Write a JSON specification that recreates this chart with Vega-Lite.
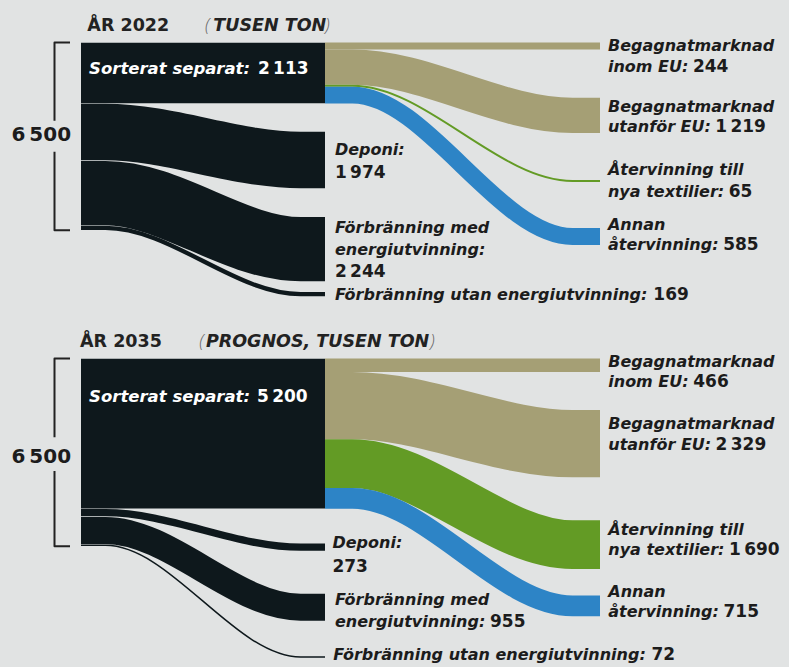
{
  "$schema": "https://vega.github.io/schema/vega-lite/v6.json",
  "background": "#e1e3e3",
  "padding": 0,
  "autosize": {"type": "none"},
  "width": 789,
  "height": 667,
  "config": {"view": {"stroke": null}},
  "datasets": {
    "flows": [
      {"year": 2022, "flow": "sorterat", "kind": "waste", "value": 2113, "x": 0, "y": 1056.5},
      {"year": 2022, "flow": "sorterat", "kind": "waste", "value": 2113, "x": 1, "y": 1056.5},
      {"year": 2022, "flow": "deponi", "kind": "waste", "value": 1974, "x": 0, "y": 3100},
      {"year": 2022, "flow": "deponi", "kind": "waste", "value": 1974, "x": 0.1, "y": 3100},
      {"year": 2022, "flow": "deponi", "kind": "waste", "value": 1974, "x": 0.9, "y": 4067},
      {"year": 2022, "flow": "deponi", "kind": "waste", "value": 1974, "x": 1, "y": 4067},
      {"year": 2022, "flow": "forbrMed", "kind": "waste", "value": 2244, "x": 0, "y": 5209},
      {"year": 2022, "flow": "forbrMed", "kind": "waste", "value": 2244, "x": 0.1, "y": 5209},
      {"year": 2022, "flow": "forbrMed", "kind": "waste", "value": 2244, "x": 0.9, "y": 7153},
      {"year": 2022, "flow": "forbrMed", "kind": "waste", "value": 2244, "x": 1, "y": 7153},
      {"year": 2022, "flow": "forbrUtan", "kind": "waste", "value": 169, "x": 0, "y": 6415.5},
      {"year": 2022, "flow": "forbrUtan", "kind": "waste", "value": 169, "x": 0.1, "y": 6415.5},
      {"year": 2022, "flow": "forbrUtan", "kind": "waste", "value": 169, "x": 0.9, "y": 8707.5},
      {"year": 2022, "flow": "forbrUtan", "kind": "waste", "value": 169, "x": 1, "y": 8707.5},
      {"year": 2022, "flow": "inom", "kind": "reuse", "value": 244, "x": 1, "y": 122},
      {"year": 2022, "flow": "inom", "kind": "reuse", "value": 244, "x": 2, "y": 122},
      {"year": 2022, "flow": "utanfor", "kind": "reuse", "value": 1219, "x": 1, "y": 853.5},
      {"year": 2022, "flow": "utanfor", "kind": "reuse", "value": 1219, "x": 1.1, "y": 853.5},
      {"year": 2022, "flow": "utanfor", "kind": "reuse", "value": 1219, "x": 1.9, "y": 2522.5},
      {"year": 2022, "flow": "utanfor", "kind": "reuse", "value": 1219, "x": 2, "y": 2522.5},
      {"year": 2022, "flow": "textil", "kind": "textile", "value": 65, "x": 1, "y": 1495.5},
      {"year": 2022, "flow": "textil", "kind": "textile", "value": 65, "x": 1.1, "y": 1495.5},
      {"year": 2022, "flow": "textil", "kind": "textile", "value": 65, "x": 1.9, "y": 4792},
      {"year": 2022, "flow": "textil", "kind": "textile", "value": 65, "x": 2, "y": 4792},
      {"year": 2022, "flow": "annan", "kind": "other", "value": 585, "x": 1, "y": 1820.5},
      {"year": 2022, "flow": "annan", "kind": "other", "value": 585, "x": 1.1, "y": 1820.5},
      {"year": 2022, "flow": "annan", "kind": "other", "value": 585, "x": 1.9, "y": 6713},
      {"year": 2022, "flow": "annan", "kind": "other", "value": 585, "x": 2, "y": 6713},
      {"year": 2035, "flow": "sorterat", "kind": "waste", "value": 5200, "x": 0, "y": 2600},
      {"year": 2035, "flow": "sorterat", "kind": "waste", "value": 5200, "x": 1, "y": 2600},
      {"year": 2035, "flow": "deponi", "kind": "waste", "value": 273, "x": 0, "y": 5336.5},
      {"year": 2035, "flow": "deponi", "kind": "waste", "value": 273, "x": 0.1, "y": 5336.5},
      {"year": 2035, "flow": "deponi", "kind": "waste", "value": 273, "x": 0.9, "y": 6529},
      {"year": 2035, "flow": "deponi", "kind": "waste", "value": 273, "x": 1, "y": 6529},
      {"year": 2035, "flow": "forbrMed", "kind": "waste", "value": 955, "x": 0, "y": 5950.5},
      {"year": 2035, "flow": "forbrMed", "kind": "waste", "value": 955, "x": 0.1, "y": 5950.5},
      {"year": 2035, "flow": "forbrMed", "kind": "waste", "value": 955, "x": 0.9, "y": 8606},
      {"year": 2035, "flow": "forbrMed", "kind": "waste", "value": 955, "x": 1, "y": 8606},
      {"year": 2035, "flow": "forbrUtan", "kind": "waste", "value": 72, "x": 0, "y": 6464},
      {"year": 2035, "flow": "forbrUtan", "kind": "waste", "value": 72, "x": 0.1, "y": 6464},
      {"year": 2035, "flow": "forbrUtan", "kind": "waste", "value": 72, "x": 0.9, "y": 10329},
      {"year": 2035, "flow": "forbrUtan", "kind": "waste", "value": 72, "x": 1, "y": 10329},
      {"year": 2035, "flow": "inom", "kind": "reuse", "value": 466, "x": 1, "y": 233},
      {"year": 2035, "flow": "inom", "kind": "reuse", "value": 466, "x": 2, "y": 233},
      {"year": 2035, "flow": "utanfor", "kind": "reuse", "value": 2329, "x": 1, "y": 1630.5},
      {"year": 2035, "flow": "utanfor", "kind": "reuse", "value": 2329, "x": 1.1, "y": 1630.5},
      {"year": 2035, "flow": "utanfor", "kind": "reuse", "value": 2329, "x": 1.9, "y": 2948},
      {"year": 2035, "flow": "utanfor", "kind": "reuse", "value": 2329, "x": 2, "y": 2948},
      {"year": 2035, "flow": "textil", "kind": "textile", "value": 1690, "x": 1, "y": 3640},
      {"year": 2035, "flow": "textil", "kind": "textile", "value": 1690, "x": 1.1, "y": 3640},
      {"year": 2035, "flow": "textil", "kind": "textile", "value": 1690, "x": 1.9, "y": 6443},
      {"year": 2035, "flow": "textil", "kind": "textile", "value": 1690, "x": 2, "y": 6443},
      {"year": 2035, "flow": "annan", "kind": "other", "value": 715, "x": 1, "y": 4842.5},
      {"year": 2035, "flow": "annan", "kind": "other", "value": 715, "x": 1.1, "y": 4842.5},
      {"year": 2035, "flow": "annan", "kind": "other", "value": 715, "x": 1.9, "y": 8561},
      {"year": 2035, "flow": "annan", "kind": "other", "value": 715, "x": 2, "y": 8561}
    ],
    "bracket": [
      {"year": 2022, "seg": "a", "i": 0, "x": -0.045, "y": 0},
      {"year": 2022, "seg": "a", "i": 1, "x": -0.1086, "y": 0},
      {"year": 2022, "seg": "a", "i": 2, "x": -0.1086, "y": 2706},
      {"year": 2022, "seg": "b", "i": 0, "x": -0.1086, "y": 3779},
      {"year": 2022, "seg": "b", "i": 1, "x": -0.1086, "y": 6500},
      {"year": 2022, "seg": "b", "i": 2, "x": -0.045, "y": 6500},
      {"year": 2035, "seg": "a", "i": 0, "x": -0.045, "y": 0},
      {"year": 2035, "seg": "a", "i": 1, "x": -0.1086, "y": 0},
      {"year": 2035, "seg": "a", "i": 2, "x": -0.1086, "y": 2727},
      {"year": 2035, "seg": "b", "i": 0, "x": -0.1086, "y": 3893},
      {"year": 2035, "seg": "b", "i": 1, "x": -0.1086, "y": 6500},
      {"year": 2035, "seg": "b", "i": 2, "x": -0.045, "y": 6500}
    ],
    "texts": [
      {"year": 2022, "role": "title", "x": 0.026, "y": -408, "text": "ÅR 2022"},
      {"year": 2022, "role": "paren", "x": 0.508, "y": -408, "text": "("},
      {"year": 2022, "role": "titleIt", "x": 0.542, "y": -408, "text": "TUSEN TON"},
      {"year": 2022, "role": "paren", "x": 1.0, "y": -408, "text": ")"},
      {"year": 2022, "role": "inLabel", "x": 0.033, "y": 1090, "text": "Sorterat separat:"},
      {"year": 2022, "role": "inNum", "x": 0.725, "y": 1090, "text": "2\u2009113"},
      {"year": 2022, "role": "total", "x": -0.163, "y": 3408, "text": "6\u2009500"},
      {"year": 2022, "role": "label", "x": 1.036, "y": 3893, "text": "Deponi:"},
      {"year": 2022, "role": "num", "x": 1.036, "y": 4699, "text": "1\u2009974"},
      {"year": 2022, "role": "label", "x": 1.036, "y": 6602, "text": "Förbränning med"},
      {"year": 2022, "role": "label", "x": 1.036, "y": 7336, "text": "energiutvinning:"},
      {"year": 2022, "role": "num", "x": 1.036, "y": 8104, "text": "2\u2009244"},
      {"year": 2022, "role": "label", "x": 1.036, "y": 8927, "text": "Förbränning utan energiutvinning:"},
      {"year": 2022, "role": "num", "x": 2.194, "y": 8927, "text": "169"},
      {"year": 2022, "role": "label", "x": 2.029, "y": 277, "text": "Begagnatmarknad"},
      {"year": 2022, "role": "label", "x": 2.029, "y": 1021, "text": "inom EU:"},
      {"year": 2022, "role": "num", "x": 2.338, "y": 1021, "text": "244"},
      {"year": 2022, "role": "label", "x": 2.029, "y": 2388, "text": "Begagnatmarknad"},
      {"year": 2022, "role": "label", "x": 2.029, "y": 3114, "text": "utanför EU:"},
      {"year": 2022, "role": "num", "x": 2.419, "y": 3114, "text": "1\u2009219"},
      {"year": 2022, "role": "label", "x": 2.029, "y": 4602, "text": "Återvinning till"},
      {"year": 2022, "role": "label", "x": 2.029, "y": 5329, "text": "nya textilier:"},
      {"year": 2022, "role": "num", "x": 2.468, "y": 5329, "text": "65"},
      {"year": 2022, "role": "label", "x": 2.029, "y": 6471, "text": "Annan"},
      {"year": 2022, "role": "label", "x": 2.029, "y": 7180, "text": "återvinning:"},
      {"year": 2022, "role": "num", "x": 2.448, "y": 7180, "text": "585"},
      {"year": 2035, "role": "title", "x": -0.004, "y": -408, "text": "ÅR 2035"},
      {"year": 2035, "role": "paren", "x": 0.485, "y": -408, "text": "("},
      {"year": 2035, "role": "titleIt", "x": 0.512, "y": -408, "text": "PROGNOS, TUSEN TON"},
      {"year": 2035, "role": "paren", "x": 1.382, "y": -408, "text": ")"},
      {"year": 2035, "role": "inLabel", "x": 0.033, "y": 1495, "text": "Sorterat separat:"},
      {"year": 2035, "role": "inNum", "x": 0.721, "y": 1495, "text": "5\u2009200"},
      {"year": 2035, "role": "total", "x": -0.163, "y": 3626, "text": "6\u2009500"},
      {"year": 2035, "role": "label", "x": 1.027, "y": 6567, "text": "Deponi:"},
      {"year": 2035, "role": "num", "x": 1.027, "y": 7377, "text": "273"},
      {"year": 2035, "role": "label", "x": 1.036, "y": 8529, "text": "Förbränning med"},
      {"year": 2035, "role": "label", "x": 1.036, "y": 9280, "text": "energiutvinning:"},
      {"year": 2035, "role": "num", "x": 1.6, "y": 9280, "text": "955"},
      {"year": 2035, "role": "label", "x": 1.03, "y": 10433, "text": "Förbränning utan energiutvinning:"},
      {"year": 2035, "role": "num", "x": 2.187, "y": 10433, "text": "72"},
      {"year": 2035, "role": "label", "x": 2.03, "y": 284, "text": "Begagnatmarknad"},
      {"year": 2035, "role": "label", "x": 2.03, "y": 976, "text": "inom EU:"},
      {"year": 2035, "role": "num", "x": 2.339, "y": 976, "text": "466"},
      {"year": 2035, "role": "label", "x": 2.03, "y": 2450, "text": "Begagnatmarknad"},
      {"year": 2035, "role": "label", "x": 2.03, "y": 3166, "text": "utanför EU:"},
      {"year": 2035, "role": "num", "x": 2.42, "y": 3166, "text": "2\u2009329"},
      {"year": 2035, "role": "label", "x": 2.03, "y": 6107, "text": "Återvinning till"},
      {"year": 2035, "role": "label", "x": 2.03, "y": 6799, "text": "nya textilier:"},
      {"year": 2035, "role": "num", "x": 2.469, "y": 6799, "text": "1\u2009690"},
      {"year": 2035, "role": "label", "x": 2.03, "y": 8242, "text": "Annan"},
      {"year": 2035, "role": "label", "x": 2.03, "y": 8934, "text": "återvinning:"},
      {"year": 2035, "role": "num", "x": 2.449, "y": 8934, "text": "715"}
    ]
  },
  "encoding": {
    "x": {"field": "x", "type": "quantitative", "axis": null, "scale": {"domain": [0, 1, 2], "range": [81, 325, 600], "zero": false, "nice": false}}
  },
  "resolve": {"scale": {"y": "independent", "size": "independent", "color": "independent"}},
  "layer": [
    {
      "encoding": {
        "y": {"field": "y", "type": "quantitative", "axis": null, "scale": {"domain": [-1470.6, 21609], "reverse": true, "zero": false, "nice": false}}
      },
      "resolve": {"scale": {"size": "independent", "color": "independent"}},
      "layer": [
        {"data": {"values": [{}]}, "mark": {"type": "rect", "color": "#b8c5ce"}, "encoding": {"x": {"datum": -0.332}, "x2": {"datum": -0.318}, "y": {"datum": -1470.6}, "y2": {"datum": 21609}}},
        {"data": {"name": "bracket"}, "transform": [{"filter": "datum.year == 2022"}], "mark": {"type": "line", "color": "#222222", "strokeWidth": 2, "strokeJoin": "round"}, "encoding": {"detail": {"field": "seg"}, "order": {"field": "i", "type": "quantitative"}}},
        {"data": {"name": "flows"}, "transform": [{"filter": "datum.year == 2022 && datum.kind == 'waste'"}], "mark": {"type": "line", "interpolate": "monotone", "color": "#0e181c", "strokeCap": "butt", "strokeJoin": "round"}, "encoding": {"detail": {"field": "flow"}, "size": {"field": "value", "type": "quantitative", "legend": null, "scale": {"domain": [20.8, 10020.8], "range": [0, 289], "zero": false}}}},
        {"data": {"name": "flows"}, "transform": [{"filter": "datum.year == 2022 && datum.kind != 'waste'"}], "mark": {"type": "line", "interpolate": "monotone", "strokeCap": "butt", "strokeJoin": "round"}, "encoding": {"detail": {"field": "flow"}, "color": {"field": "kind", "type": "nominal", "legend": null, "scale": {"domain": ["reuse", "textile", "other"], "range": ["#a59f75", "#639b25", "#2d84c6"]}}, "size": {"field": "value", "type": "quantitative", "legend": null, "scale": {"domain": [0, 10000], "range": [0, 289]}}}},
        {"data": {"name": "texts"}, "transform": [{"filter": "datum.year == 2022 && datum.role == 'title'"}], "mark": {"type": "text", "align": "left", "baseline": "alphabetic", "font": "DejaVu Sans", "fontWeight": "bold", "fontSize": 17.5, "color": "#222222"}, "encoding": {"text": {"field": "text"}}},
        {"data": {"name": "texts"}, "transform": [{"filter": "datum.year == 2022 && datum.role == 'titleIt'"}], "mark": {"type": "text", "align": "left", "baseline": "alphabetic", "font": "DejaVu Sans", "fontWeight": "bold", "fontStyle": "italic", "fontSize": 17.5, "color": "#222222"}, "encoding": {"text": {"field": "text"}}},
        {"data": {"name": "texts"}, "transform": [{"filter": "datum.year == 2022 && datum.role == 'paren'"}], "mark": {"type": "text", "align": "left", "baseline": "alphabetic", "font": "Open Sans", "fontWeight": 300, "fontStyle": "italic", "fontSize": 18, "color": "#666666"}, "encoding": {"text": {"field": "text"}}},
        {"data": {"name": "texts"}, "transform": [{"filter": "datum.year == 2022 && datum.role == 'inLabel'"}], "mark": {"type": "text", "align": "left", "baseline": "alphabetic", "font": "DejaVu Sans", "fontWeight": "bold", "fontStyle": "italic", "fontSize": 16.5, "color": "#ffffff"}, "encoding": {"text": {"field": "text"}}},
        {"data": {"name": "texts"}, "transform": [{"filter": "datum.year == 2022 && datum.role == 'inNum'"}], "mark": {"type": "text", "align": "left", "baseline": "alphabetic", "font": "DejaVu Sans", "fontWeight": "bold", "fontSize": 17, "color": "#ffffff"}, "encoding": {"text": {"field": "text"}}},
        {"data": {"name": "texts"}, "transform": [{"filter": "datum.year == 2022 && datum.role == 'total'"}], "mark": {"type": "text", "align": "center", "baseline": "alphabetic", "font": "DejaVu Sans", "fontWeight": "bold", "fontSize": 20, "color": "#1c1c1c"}, "encoding": {"text": {"field": "text"}}},
        {"data": {"name": "texts"}, "transform": [{"filter": "datum.year == 2022 && datum.role == 'label'"}], "mark": {"type": "text", "align": "left", "baseline": "alphabetic", "font": "DejaVu Sans", "fontWeight": "bold", "fontStyle": "italic", "fontSize": 16, "color": "#1c1c1c"}, "encoding": {"text": {"field": "text"}}},
        {"data": {"name": "texts"}, "transform": [{"filter": "datum.year == 2022 && datum.role == 'num'"}], "mark": {"type": "text", "align": "left", "baseline": "alphabetic", "font": "DejaVu Sans", "fontWeight": "bold", "fontSize": 17, "color": "#1c1c1c"}, "encoding": {"text": {"field": "text"}}}
      ]
    },
    {
      "encoding": {
        "y": {"field": "y", "type": "quantitative", "axis": null, "scale": {"domain": [-12404.8, 10674.7], "reverse": true, "zero": false, "nice": false}}
      },
      "resolve": {"scale": {"size": "independent", "color": "independent"}},
      "layer": [
        {"data": {"name": "bracket"}, "transform": [{"filter": "datum.year == 2035"}], "mark": {"type": "line", "color": "#222222", "strokeWidth": 2, "strokeJoin": "round"}, "encoding": {"detail": {"field": "seg"}, "order": {"field": "i", "type": "quantitative"}}},
        {"data": {"name": "flows"}, "transform": [{"filter": "datum.year == 2035 && datum.kind == 'waste'"}], "mark": {"type": "line", "interpolate": "monotone", "color": "#0e181c", "strokeCap": "butt", "strokeJoin": "round"}, "encoding": {"detail": {"field": "flow"}, "size": {"field": "value", "type": "quantitative", "legend": null, "scale": {"domain": [20.8, 10020.8], "range": [0, 289], "zero": false}}}},
        {"data": {"name": "flows"}, "transform": [{"filter": "datum.year == 2035 && datum.kind != 'waste'"}], "mark": {"type": "line", "interpolate": "monotone", "strokeCap": "butt", "strokeJoin": "round"}, "encoding": {"detail": {"field": "flow"}, "color": {"field": "kind", "type": "nominal", "legend": null, "scale": {"domain": ["reuse", "textile", "other"], "range": ["#a59f75", "#639b25", "#2d84c6"]}}, "size": {"field": "value", "type": "quantitative", "legend": null, "scale": {"domain": [0, 10000], "range": [0, 289]}}}},
        {"data": {"name": "texts"}, "transform": [{"filter": "datum.year == 2035 && datum.role == 'title'"}], "mark": {"type": "text", "align": "left", "baseline": "alphabetic", "font": "DejaVu Sans", "fontWeight": "bold", "fontSize": 17.5, "color": "#222222"}, "encoding": {"text": {"field": "text"}}},
        {"data": {"name": "texts"}, "transform": [{"filter": "datum.year == 2035 && datum.role == 'titleIt'"}], "mark": {"type": "text", "align": "left", "baseline": "alphabetic", "font": "DejaVu Sans", "fontWeight": "bold", "fontStyle": "italic", "fontSize": 17.5, "color": "#222222"}, "encoding": {"text": {"field": "text"}}},
        {"data": {"name": "texts"}, "transform": [{"filter": "datum.year == 2035 && datum.role == 'paren'"}], "mark": {"type": "text", "align": "left", "baseline": "alphabetic", "font": "Open Sans", "fontWeight": 300, "fontStyle": "italic", "fontSize": 18, "color": "#666666"}, "encoding": {"text": {"field": "text"}}},
        {"data": {"name": "texts"}, "transform": [{"filter": "datum.year == 2035 && datum.role == 'inLabel'"}], "mark": {"type": "text", "align": "left", "baseline": "alphabetic", "font": "DejaVu Sans", "fontWeight": "bold", "fontStyle": "italic", "fontSize": 16.5, "color": "#ffffff"}, "encoding": {"text": {"field": "text"}}},
        {"data": {"name": "texts"}, "transform": [{"filter": "datum.year == 2035 && datum.role == 'inNum'"}], "mark": {"type": "text", "align": "left", "baseline": "alphabetic", "font": "DejaVu Sans", "fontWeight": "bold", "fontSize": 17, "color": "#ffffff"}, "encoding": {"text": {"field": "text"}}},
        {"data": {"name": "texts"}, "transform": [{"filter": "datum.year == 2035 && datum.role == 'total'"}], "mark": {"type": "text", "align": "center", "baseline": "alphabetic", "font": "DejaVu Sans", "fontWeight": "bold", "fontSize": 20, "color": "#1c1c1c"}, "encoding": {"text": {"field": "text"}}},
        {"data": {"name": "texts"}, "transform": [{"filter": "datum.year == 2035 && datum.role == 'label'"}], "mark": {"type": "text", "align": "left", "baseline": "alphabetic", "font": "DejaVu Sans", "fontWeight": "bold", "fontStyle": "italic", "fontSize": 16, "color": "#1c1c1c"}, "encoding": {"text": {"field": "text"}}},
        {"data": {"name": "texts"}, "transform": [{"filter": "datum.year == 2035 && datum.role == 'num'"}], "mark": {"type": "text", "align": "left", "baseline": "alphabetic", "font": "DejaVu Sans", "fontWeight": "bold", "fontSize": 17, "color": "#1c1c1c"}, "encoding": {"text": {"field": "text"}}}
      ]
    }
  ]
}
